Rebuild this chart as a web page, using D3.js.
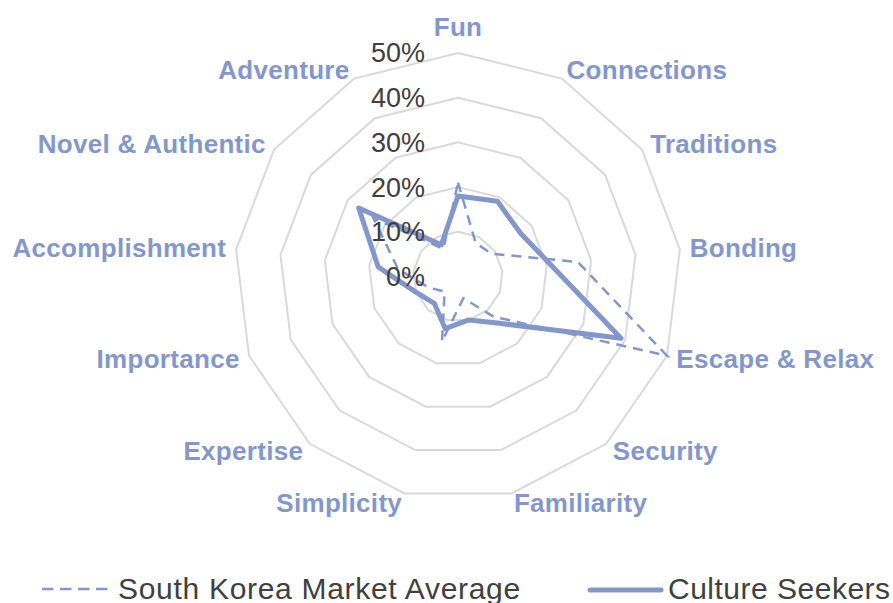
<!DOCTYPE html>
<html>
<head>
<meta charset="utf-8">
<script src="https://cdn.jsdelivr.net/npm/d3@7"></script>
<style>
  body { margin: 0; background: #fff; }
  svg { display: block; font-family: "Liberation Sans", Arial, sans-serif; }
</style>
</head>
<body>
<div id="chart"></div>
<script>
const categories = ["Fun", "Connections", "Traditions", "Bonding", "Escape & Relax", "Security",
  "Familiarity", "Simplicity", "Expertise", "Importance", "Accomplishment", "Novel & Authentic", "Adventure"];
const marketAverage = [0.21, 0.085, 0.09, 0.27, 0.50, 0.12, 0.05, 0.15, 0.045, 0.07, 0.135, 0.23, 0.07];
const cultureSeekers = [0.18, 0.19, 0.17, 0.21, 0.39, 0.14, 0.10, 0.12, 0.08, 0.10, 0.18, 0.27, 0.08];
const tickValues = [0, 0.1, 0.2, 0.3, 0.4, 0.5];
const seriesNames = ["South Korea Market Average", "Culture Seekers"];

const width = 893, height = 603;
const cx = 458, cy = 276.5, R = 223.5;
const blue = "#8497CB";

const svg = d3.select("#chart")
    .append("svg")
    .attr("width", width)
    .attr("height", height);

const g = svg.append("g")
    .attr("transform", `translate(${cx},${cy})`);

const rScale = d3.scaleLinear()
    .domain([0, 0.5])
    .range([0, R]);
const angle = d3.scaleLinear()
    .domain([0, categories.length])
    .range([0, 2 * Math.PI]);

// grid rings
const ring = d3.lineRadial()
    .angle((d, i) => angle(i))
    .radius(d => rScale(d))
    .curve(d3.curveLinearClosed);

g.selectAll(".ring")
    .data(tickValues.filter(v => v > 0))
    .enter()
    .append("path")
    .attr("class", "ring")
    .attr("d", v => ring(categories.map(() => v)))
    .attr("fill", "none")
    .attr("stroke", "#d9d9d9")
    .attr("stroke-width", 2);

// series
const line = d3.lineRadial()
    .angle((d, i) => angle(i))
    .radius(d => rScale(d))
    .curve(d3.curveLinearClosed);

g.append("path")
    .attr("d", line(marketAverage))
    .attr("fill", "none")
    .attr("stroke", blue)
    .attr("stroke-width", 2.5)
    .attr("stroke-dasharray", "10,7");

g.append("path")
    .attr("d", line(cultureSeekers))
    .attr("fill", "none")
    .attr("stroke", blue)
    .attr("stroke-width", 5)
    .attr("stroke-linejoin", "round");

// tick labels
g.selectAll(".tick-label")
    .data(tickValues)
    .enter()
    .append("text")
    .attr("class", "tick-label")
    .attr("x", -33)
    .attr("y", v => -rScale(v))
    .attr("dy", "0.35em")
    .attr("text-anchor", "end")
    .attr("fill", "#404040")
    .style("font-size", "27px")
    .text(d3.format(".0%"));

// category labels
g.selectAll(".cat-label")
    .data(categories)
    .enter()
    .append("text")
    .attr("class", "cat-label")
    .each(function(d, i) {
        const a = angle(i);
        const s = Math.sin(a), c = Math.cos(a);
        const x = (R + 10) * s, y = -(R + 10) * c;
        const anchor = Math.abs(s) < 0.01 ? "middle" : (s > 0 ? "start" : "end");
        d3.select(this)
            .attr("x", x)
            .attr("y", anchor === "middle" ? y - 16 : y)
            .attr("text-anchor", anchor);
    })
    .attr("dy", "0.35em")
    .attr("fill", blue)
    .style("font-size", "26px")
    .style("font-weight", "bold")
    .style("letter-spacing", "0.3px")
    .text(d => d);

// legend
const legend = svg.append("g").attr("class", "legend");
legend.append("line")
    .attr("x1", 42).attr("x2", 108)
    .attr("y1", 589).attr("y2", 589)
    .attr("stroke", blue)
    .attr("stroke-width", 2.5)
    .attr("stroke-dasharray", "11.5,6.5");
legend.append("text")
    .attr("x", 118).attr("y", 598.5)
    .attr("fill", "#404040")
    .style("font-size", "30px")
    .style("letter-spacing", "0.7px")
    .text(seriesNames[0]);
legend.append("line")
    .attr("x1", 590).attr("x2", 661)
    .attr("y1", 590).attr("y2", 590)
    .attr("stroke", blue)
    .attr("stroke-width", 5)
    .attr("stroke-linecap", "round");
legend.append("text")
    .attr("x", 668).attr("y", 598.5)
    .attr("fill", "#404040")
    .style("font-size", "30px")
    .style("letter-spacing", "0.5px")
    .text(seriesNames[1]);
</script>
</body>
</html>
